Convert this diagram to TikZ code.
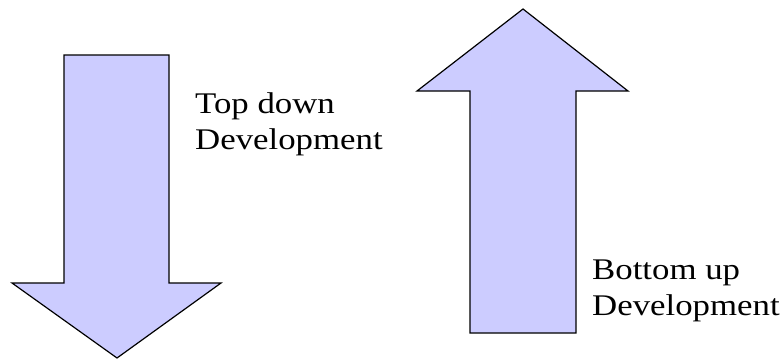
\documentclass[tikz,border=0pt]{standalone}
\usepackage{fontspec}
\setmainfont[FakeStretch=1.16]{Liberation Serif}
\definecolor{arrowfill}{HTML}{CCCCFF}
\begin{document}
\begin{tikzpicture}[x=1pt,y=-1pt,
  bigarrow/.style={draw=black,fill=arrowfill,line width=1.2pt,line join=miter},
  lbl/.style={anchor=north west,align=left,inner sep=0pt,font=\fontsize{30}{36}\selectfont}]
\useasboundingbox (0,0) rectangle (781,360);
% down arrow
\draw[bigarrow] (64,55) -- (169,55) -- (169,283) -- (221,283) -- (117,358) -- (12,283) -- (64,283) -- cycle;
% up arrow
\draw[bigarrow] (523,9) -- (628,91) -- (576,91) -- (576,333) -- (470,333) -- (470,91) -- (417,91) -- cycle;
\node[lbl] (td) at (195,92) {Top down\\Development};
\node[lbl] (bu) at (592,260) {Bottom up\\Development};
\end{tikzpicture}
\end{document}
